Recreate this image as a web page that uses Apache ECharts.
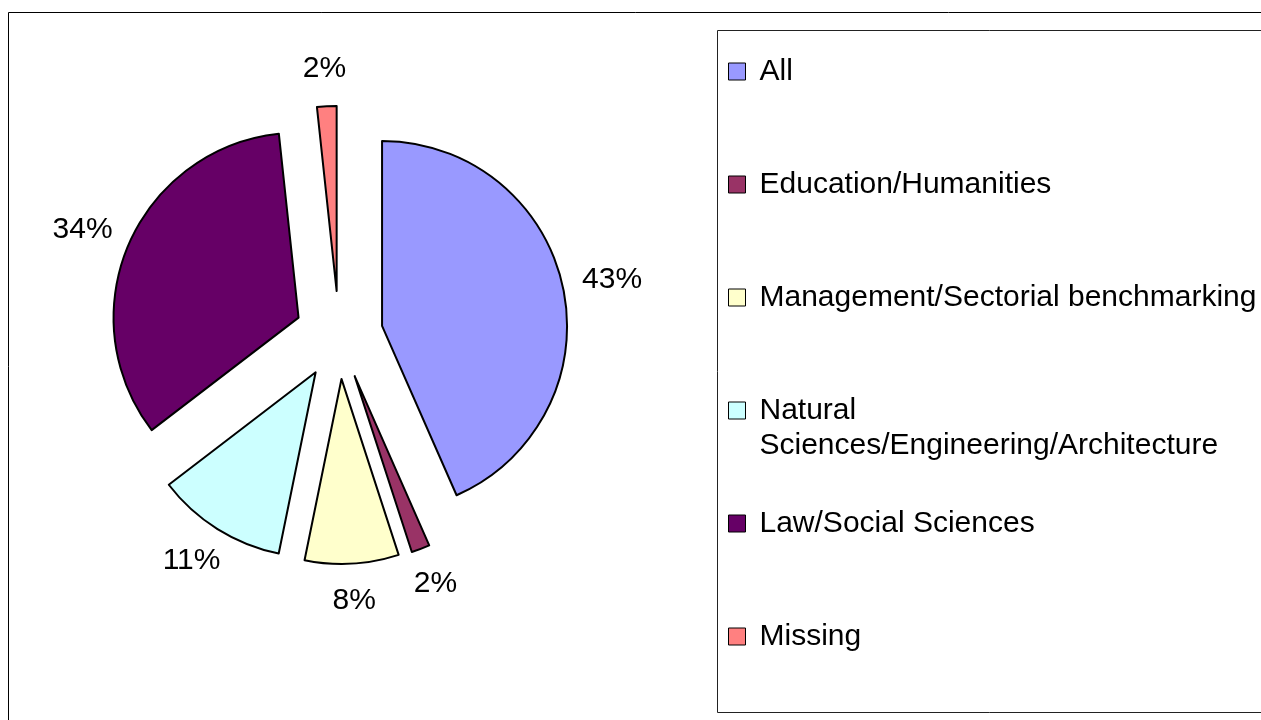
<!DOCTYPE html>
<html>
<head>
<meta charset="utf-8" />
<style>
html, body { margin: 0; padding: 0; background: #fff; }
#main { width: 1261px; height: 720px; }
</style>
<script src="https://cdn.jsdelivr.net/npm/echarts@6/dist/echarts.min.js"></script>
</head>
<body>
<div id="main"></div>
<script>
// shares (%), clockwise from 12 o'clock
const categories = [
  'All',
  'Education/Humanities',
  'Management/Sectorial benchmarking',
  'Natural Sciences/Engineering/Architecture',
  'Law/Social Sciences',
  'Missing'
];
const shares = [43.4, 1.6, 8.2, 11.4, 33.7, 1.7];
const colors = ['#9999FF', '#993366', '#FFFFCC', '#CCFFFF', '#660066', '#FF8080'];
// wrapped legend entry; leading blank line keeps the first line level with the icon
const legendText = {
  'Natural Sciences/Engineering/Architecture': '\nNatural\nSciences/Engineering/Architecture'
};

const FONT = '"Liberation Sans", Arial, Helvetica, sans-serif';
const LABEL_GAP = 20;

// mid angle of each slice, clockwise from top (radians)
const total = shares.reduce((a, b) => a + b, 0);
let acc = 0;
const midAngles = shares.map(v => {
  const m = (acc + v / 2) / total * Math.PI * 2;
  acc += v;
  return m;
});

const chart = echarts.init(document.getElementById('main'));
chart.setOption({
  animation: false,
  backgroundColor: '#fff',
  textStyle: { fontFamily: FONT },
  graphic: [
    {
      type: 'rect',
      shape: { x: 8.5, y: 12.5, width: 1300, height: 800 },
      style: { fill: null, stroke: '#000', lineWidth: 1 },
      silent: true
    },
    {
      type: 'rect',
      shape: { x: 717.5, y: 30.5, width: 600, height: 682 },
      style: { fill: null, stroke: '#222', lineWidth: 1 },
      silent: true
    }
  ],
  legend: {
    orient: 'vertical',
    left: 728,
    top: 19,
    padding: 0,
    itemGap: 8,
    itemWidth: 17,
    itemHeight: 17,
    icon: 'rect',
    selectedMode: false,
    itemStyle: { borderColor: '#000', borderWidth: 1 },
    textStyle: { fontSize: 30, lineHeight: 35, color: '#000', fontFamily: FONT },
    formatter: name => legendText[name] || name,
    data: categories.map(name => ({
      name,
      textStyle: { padding: legendText[name] ? [0, 0, 0, 9] : [35, 0, 35, 9] }
    }))
  },
  series: [
    {
      type: 'pie',
      center: [339, 335],
      radius: 185,
      startAngle: 90,
      clockwise: true,
      selectedMode: 'multiple',
      selectedOffset: 44,
      avoidLabelOverlap: false,
      data: categories.map((name, i) => ({
        name,
        value: shares[i],
        selected: true,
        itemStyle: { color: colors[i] }
      })),
      itemStyle: { borderColor: '#000', borderWidth: 2 },
      label: {
        show: true,
        position: 'outside',
        formatter: p => Math.round(p.value) + '%',
        fontSize: 30,
        lineHeight: 35,
        color: '#000',
        fontFamily: FONT,
        distanceToLabelLine: 0
      },
      labelLine: { show: false, length: 0, length2: 0 },
      emphasis: { disabled: true },
      select: { itemStyle: { borderColor: '#000', borderWidth: 2 } },
      labelLayout: p => {
        const a = midAngles[p.dataIndex];
        const sx = Math.sin(a), sy = -Math.cos(a);
        const w = p.labelRect.width, h = p.labelRect.height;
        return {
          dx: sx * (w / 2 + LABEL_GAP) - (sx < 0 ? -1 : 1) * w / 2,
          dy: sy * (h / 2 + LABEL_GAP)
        };
      }
    }
  ]
});
</script>
</body>
</html>
